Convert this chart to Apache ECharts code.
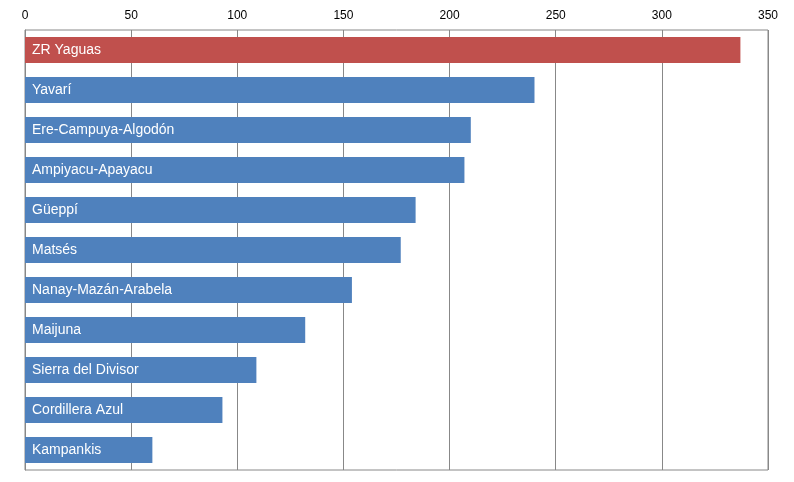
<!DOCTYPE html>
<html><head><meta charset="utf-8">
<script src="https://cdn.jsdelivr.net/npm/echarts@6/dist/echarts.min.js"></script>
<style>html,body{margin:0;padding:0;background:#fff}#c{width:794px;height:482px}</style>
</head><body><div id="c"></div>
<script>
const categories = ["ZR Yaguas","Yavarí","Ere-Campuya-Algodón","Ampiyacu-Apayacu","Güeppí","Matsés","Nanay-Mazán-Arabela","Maijuna","Sierra del Divisor","Cordillera Azul","Kampankis"];
const values = [337,240,210,207,184,177,154,132,109,93,60];
const highlight = "ZR Yaguas";
const chart = echarts.init(document.getElementById('c'));
chart.setOption({
  animation:false,
  grid:{left:25,right:26,top:30,bottom:12,show:true,borderColor:'#888',borderWidth:1},
  xAxis:{type:'value',position:'top',min:0,max:350,interval:50,
    axisLine:{show:false},axisTick:{show:false},
    axisLabel:{color:'#000',fontFamily:'Liberation Sans',fontSize:12,margin:8},
    splitLine:{lineStyle:{color:'#888'}}},
  yAxis:{type:'category',inverse:true,data:categories,
    axisLine:{lineStyle:{color:'#888'}},axisTick:{show:false},axisLabel:{show:false}},
  series:[{type:'bar',barCategoryGap:'35%',
    data:values.map((v,i)=>({value:v,itemStyle:{color:categories[i]===highlight?'#c0504d':'#4f81bd'}})),
    label:{show:true,position:'insideLeft',offset:[2,0],formatter:p=>p.name,color:'#fff',fontFamily:'Liberation Sans',fontSize:14}}]
});
</script></body></html>
